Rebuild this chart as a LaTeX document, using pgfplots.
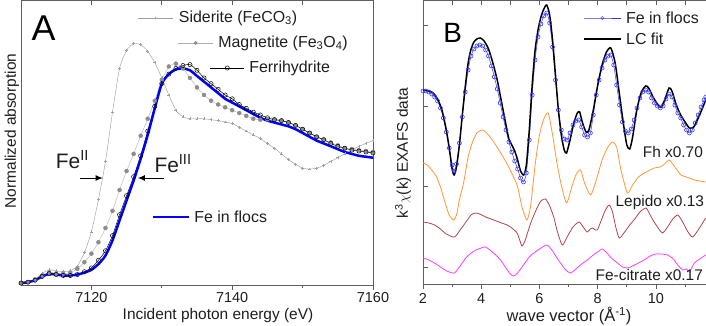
\documentclass[border=0pt]{standalone}
\usepackage{pgfplots}
\pgfplotsset{compat=1.18}
\usetikzlibrary{arrows.meta}
\usepackage{fontspec}
\setmainfont{Liberation Sans}

\definecolor{flocblue}{RGB}{0,0,255}
\definecolor{circblue}{RGB}{55,55,255}
\definecolor{sidgray}{RGB}{160,160,160}
\definecolor{maggray}{RGB}{140,140,140}
\definecolor{fhorange}{RGB}{255,150,55}
\definecolor{lepbrown}{RGB}{178,70,70}
\definecolor{citmag}{RGB}{255,60,255}
\definecolor{framegray}{RGB}{95,95,95}
\definecolor{txt}{RGB}{30,30,30}

\newcommand\tickfont{\fontsize{14.5}{17}\selectfont}
\newcommand\labfont{\fontsize{15.5}{18}\selectfont}
\newcommand\legfont{\fontsize{16}{19}\selectfont}

\pgfplotsset{
  panel/.style={
    scale only axis, anchor=south west,
    axis line style={framegray, line width=0.8bp},
    tick style={framegray, line width=0.7bp},
    major tick length=5bp, minor tick length=3bp,
    ticklabel style={font=\tickfont, text=txt},
    clip=false,
  },
  topticks/.style={
    scale only axis, anchor=south west,
    axis x line*=top, axis y line=none,
    axis line style={framegray, line width=0.8bp},
    tick style={framegray, line width=0.7bp},
    major tick length=5bp, minor tick length=3bp,
    tick align=inside, xticklabels={}, ymin=0, ymax=1,
  },
}

\begin{document}
\begin{tikzpicture}
\useasboundingbox (0,0) rectangle (706bp,326bp);

% ---------------- Panel A: Fe K-edge XANES ----------------
\begin{axis}[panel, at={(21bp,41bp)}, width=352bp, height=285bp,
  xmin=7110, xmax=7160, ymin=0, ymax=1.5,
  xtick={7120,7140,7160}, xticklabels={7120,7140,7160},
  minor xtick={7130,7150},
  xtick pos=left, xtick align=outside,
  ytick=\empty,
  xticklabel style={yshift=1bp},
]
% siderite
\addplot[sidgray, line width=0.45bp, smooth, tension=0.4, mark=+,
  mark size=1.4bp, mark options={line width=0.45bp}] table {
E v
7110 0.010
7111 0.015
7112 0.030
7113 0.060
7114 0.080
7115 0.075
7116 0.070
7117 0.075
7118 0.100
7119 0.170
7120 0.280
7121 0.450
7122 0.650
7123 0.910
7124 1.140
7125 1.235
7126 1.270
7127 1.265
7128 1.230
7129 1.170
7130 1.090
7131 1.000
7132 0.920
7133 0.885
7134 0.875
7135 0.875
7136 0.875
7137 0.870
7138 0.865
7139 0.858
7140 0.850
7141 0.830
7142 0.810
7143 0.790
7144 0.770
7145 0.745
7146 0.720
7147 0.690
7148 0.660
7149 0.635
7150 0.615
7151 0.610
7152 0.615
7153 0.630
7154 0.650
7155 0.670
7156 0.690
7157 0.710
7158 0.730
7159 0.745
7160 0.760
};
% magnetite
\addplot[maggray!70, line width=0.4bp, smooth, tension=0.4, mark=*,
  mark size=2bp, mark options={draw=maggray, fill=maggray}] table {
E v
7110 0.010
7111 0.015
7112 0.030
7113 0.050
7114 0.065
7115 0.060
7116 0.060
7117 0.065
7118 0.085
7119 0.120
7120 0.165
7121 0.225
7122 0.300
7123 0.390
7124 0.500
7125 0.600
7126 0.690
7127 0.785
7128 0.875
7129 0.970
7130 1.080
7131 1.150
7132 1.165
7133 1.140
7134 1.090
7135 1.040
7136 1.000
7137 0.970
7138 0.950
7139 0.935
7140 0.920
7141 0.905
7142 0.890
7143 0.875
7144 0.870
7145 0.872
7146 0.872
7147 0.866
7148 0.856
7149 0.840
7150 0.820
7151 0.800
7152 0.780
7153 0.765
7154 0.750
7155 0.735
7156 0.720
7157 0.715
7158 0.710
7159 0.705
7160 0.700
};
% ferrihydrite
\addplot[black, line width=0.5bp, smooth, tension=0.4, mark=o,
  mark size=2.1bp, mark options={fill=white, line width=0.5bp}] table {
E v
7110 0.010
7111 0.015
7112 0.025
7113 0.045
7114 0.060
7115 0.055
7116 0.050
7117 0.050
7118 0.055
7119 0.070
7120 0.090
7121 0.130
7122 0.180
7123 0.260
7124 0.370
7125 0.470
7126 0.570
7127 0.680
7128 0.810
7129 0.940
7130 1.060
7131 1.110
7132 1.140
7133 1.155
7134 1.160
7135 1.130
7136 1.090
7137 1.060
7138 1.030
7139 1.000
7140 0.980
7141 0.950
7142 0.930
7143 0.910
7144 0.895
7145 0.880
7146 0.870
7147 0.865
7148 0.855
7149 0.840
7150 0.820
7151 0.800
7152 0.780
7153 0.765
7154 0.745
7155 0.730
7156 0.720
7157 0.710
7158 0.705
7159 0.700
7160 0.695
};
% Fe in flocs
\addplot[flocblue, line width=2.5bp, smooth, tension=0.4] table {
E v
7110 0.010
7111 0.015
7112 0.025
7113 0.045
7114 0.058
7115 0.055
7116 0.050
7117 0.050
7118 0.055
7119 0.065
7120 0.080
7121 0.110
7122 0.155
7123 0.235
7124 0.340
7125 0.445
7126 0.550
7127 0.665
7128 0.790
7129 0.930
7130 1.060
7131 1.110
7132 1.135
7133 1.140
7134 1.130
7135 1.100
7136 1.070
7137 1.040
7138 1.010
7139 0.980
7140 0.960
7141 0.940
7142 0.920
7143 0.900
7144 0.880
7145 0.865
7146 0.855
7147 0.845
7148 0.835
7149 0.820
7150 0.800
7151 0.780
7152 0.760
7153 0.745
7154 0.730
7155 0.715
7156 0.700
7157 0.690
7158 0.680
7159 0.675
7160 0.670
};

% legend keys
\addplot[sidgray, line width=0.45bp, mark=+, mark size=1.4bp, mark indices={2}]
  coordinates {(7126.6,1.405) (7129.1,1.405) (7131.6,1.405)};
\addplot[maggray!70, line width=0.45bp, mark=*, mark size=1.7bp,
  mark options={draw=maggray, fill=maggray}, mark indices={2}]
  coordinates {(7132.3,1.274) (7134.8,1.274) (7137.3,1.274)};
\addplot[black, line width=0.5bp, mark=o, mark size=2.1bp,
  mark options={fill=white}, mark indices={2}]
  coordinates {(7136.9,1.142) (7139.3,1.142) (7141.7,1.142)};
\addplot[flocblue, line width=2.5bp]
  coordinates {(7128.7,0.358) (7133.9,0.358)};

\node[anchor=west, font=\legfont, text=txt, inner sep=0pt] at (axis cs:7132.4,1.405) {Siderite (FeCO\textsubscript{3})};
\node[anchor=west, font=\legfont, text=txt, inner sep=0pt] at (axis cs:7138.0,1.274) {Magnetite (Fe\textsubscript{3}O\textsubscript{4})};
\node[anchor=west, font=\legfont, text=txt, inner sep=0pt] at (axis cs:7142.4,1.142) {Ferrihydrite};
\node[anchor=west, font=\legfont, text=txt, inner sep=0pt] at (axis cs:7134.6,0.358) {Fe in flocs};

% edge-position markers
\draw[-{Latex[length=7bp,width=6bp]}, line width=1bp] (axis cs:7118.4,0.563) -- (axis cs:7121.6,0.563);
\draw[-{Latex[length=7bp,width=6bp]}, line width=1bp] (axis cs:7130.3,0.563) -- (axis cs:7126.6,0.563);
\node[font=\fontsize{21}{24}\selectfont, text=txt] at (axis cs:7117.3,0.66) {Fe\textsuperscript{II}};
\node[font=\fontsize{21}{24}\selectfont, text=txt] at (axis cs:7131.6,0.64) {Fe\textsuperscript{III}};

\node[font=\fontsize{36}{40}\selectfont, text=black] at (axis cs:7113.2,1.35) {A};
\end{axis}

\begin{axis}[topticks, at={(21bp,41bp)}, width=352bp, height=285bp,
  xmin=7110, xmax=7160, xtick={7120,7130,7140,7150}]
\end{axis}

% ---------------- Panel B: k^3-weighted EXAFS ----------------
\begin{axis}[panel, at={(423bp,42bp)}, width=283bp, height=284bp,
  xmin=2, xmax=11.72, ymin=1, ymax=285,
  xtick={2,4,6,8,10}, xticklabels={2,4,6,8,10},
  minor xtick={3,5,7,9,11},
  xtick pos=left, xtick align=outside,
  ytick={18,98.5,179,259.5}, yticklabels={},
  ytick pos=left, ytick align=inside,
  xticklabel style={yshift=-1bp},
]
% Fe in flocs (data)
\addplot[circblue, line width=0.5bp, smooth, tension=0.4, mark=o,
  mark size=2bp, mark options={line width=0.6bp, fill=none}] table {
k v
2.00 194
2.10 194
2.20 193
2.30 191
2.40 188
2.50 184
2.60 177
2.70 167
2.80 153
2.90 137
3.00 120
3.07 114
3.15 121
3.25 142
3.35 168
3.45 193
3.55 215
3.65 229
3.75 236
3.85 239
3.95 240
4.05 239
4.15 235
4.25 229
4.35 219
4.45 208
4.55 196
4.65 182
4.75 168
4.85 155
4.95 143
5.05 133
5.15 124
5.25 116
5.35 107
5.45 103
5.55 112
5.65 145
5.75 190
5.85 225
5.95 248
6.05 261
6.15 269
6.25 272
6.35 262
6.45 238
6.55 205
6.65 175
6.75 155
6.85 146
6.95 145
7.05 152
7.15 160
7.25 164
7.35 165
7.45 158
7.55 150
7.65 148
7.75 152
7.85 170
7.95 190
8.05 205
8.15 217
8.25 225
8.35 229
8.45 230
8.55 220
8.65 200
8.75 180
8.85 163
8.95 154
9.05 152
9.15 156
9.25 165
9.35 177
9.45 187
9.55 193
9.65 195
9.75 193
9.85 187
9.95 182
10.05 179
10.15 177
10.25 179
10.35 186
10.45 191
10.55 188
10.65 180
10.75 172
10.85 167
10.95 160
11.05 155
11.15 152
11.25 155
11.35 162
11.45 170
11.55 178
11.65 185
11.71 188
};
% linear-combination fit
\addplot[black, line width=1.5bp, smooth, tension=0.4] table {
k v
2.00 195
2.20 194
2.35 192
2.50 186
2.65 175
2.80 155
2.90 137
3.00 116
3.07 110
3.15 118
3.25 140
3.35 170
3.45 198
3.55 222
3.65 236
3.75 243
3.85 246
3.97 247
4.10 244
4.25 236
4.40 222
4.55 205
4.65 190
4.75 175
4.85 160
4.95 146
5.05 140
5.15 134
5.25 125
5.35 114
5.46 110
5.55 120
5.65 155
5.75 200
5.85 235
5.95 255
6.05 268
6.15 276
6.25 280
6.35 270
6.45 245
6.55 210
6.65 175
6.75 150
6.85 135
6.93 132
7.05 145
7.18 162
7.30 172
7.38 173
7.48 162
7.60 153
7.70 155
7.85 175
8.00 200
8.15 220
8.30 233
8.45 237
8.60 222
8.75 190
8.90 158
9.00 140
9.10 136
9.20 148
9.35 176
9.50 193
9.65 199
9.75 197
9.90 188
10.05 181
10.17 178
10.30 185
10.45 197
10.55 194
10.70 180
10.85 170
11.00 163
11.15 157
11.30 158
11.50 170
11.71 185
};
% ferrihydrite reference, scaled 0.70
\addplot[fhorange, line width=0.8bp, smooth, tension=0.4] table {
k v
2.00 122
2.15 120
2.30 115
2.45 109
2.60 98
2.75 83
2.90 70
3.05 65
3.15 70
3.25 85
3.40 103
3.55 128
3.70 143
3.85 152
4.05 155
4.25 150
4.45 142
4.65 133
4.85 123
5.05 112
5.25 98
5.40 78
5.57 65
5.70 80
5.85 120
6.00 150
6.15 166
6.30 172
6.45 150
6.60 122
6.75 100
6.93 82
7.10 97
7.25 110
7.41 115
7.55 102
7.76 90
7.95 105
8.15 125
8.35 138
8.51 143
8.65 138
8.80 115
9.02 92
9.20 100
9.40 108
9.60 112
9.80 115
9.94 117
10.15 118
10.30 121
10.46 125
10.65 118
10.86 110
11.05 108
11.32 105
11.50 104
11.71 103
};
% lepidocrocite reference, scaled 0.13
\addplot[lepbrown, line width=0.8bp, smooth, tension=0.4] table {
k v
2.00 63
2.20 62
2.40 60
2.60 56
2.80 51
3.08 48
3.30 56
3.50 64
3.65 70
3.79 72
3.95 71
4.15 68
4.43 65
4.70 62
4.89 60
5.05 57
5.23 52
5.32 45
5.40 39
5.50 44
5.70 62
5.90 76
6.05 84
6.21 86
6.35 79
6.49 68
6.60 55
6.78 40
6.95 48
7.15 58
7.36 63
7.50 58
7.64 53
7.74 56
7.82 57
7.92 55
7.99 55
8.10 63
8.25 74
8.39 80
8.50 74
8.62 58
8.74 47
8.90 52
9.10 60
9.30 67
9.45 73
9.66 77
9.80 70
9.94 63
10.10 56
10.23 52
10.40 58
10.58 66
10.75 70
10.90 64
11.10 53
11.26 48
11.45 55
11.71 67
};
% Fe(III)-citrate reference, scaled 0.17
\addplot[citmag, line width=0.8bp, smooth, tension=0.4] table {
k v
2.00 27
2.20 25
2.45 21
2.70 16
2.90 13
3.08 12
3.25 18
3.50 28
3.75 34
4.00 37
4.14 38
4.30 35
4.50 30
4.66 25
4.85 17
5.00 11
5.11 9
5.25 12
5.45 20
5.65 28
5.80 32
6.00 36
6.26 40
6.45 34
6.60 27
6.72 22
6.90 15
7.07 12
7.25 16
7.45 21
7.64 25
7.85 30
8.00 33
8.16 36
8.35 31
8.50 26
8.68 22
8.85 18
9.02 17
9.20 19
9.40 22
9.60 25
9.80 29
10.00 31
10.20 31
10.40 30
10.60 26
10.75 20
10.92 15
11.05 16
11.15 13
11.32 22
11.50 26
11.71 30
};

% legend keys
\addplot[circblue, line width=0.5bp, mark=o, mark size=1.6bp, mark indices={2}]
  coordinates {(7.52,267) (8.155,267) (8.79,267)};
\addplot[black, line width=1.5bp]
  coordinates {(7.52,246) (8.79,246)};
\node[anchor=west, font=\legfont, text=txt, inner sep=0pt] at (axis cs:8.97,267) {Fe in flocs};
\node[anchor=west, font=\legfont, text=txt, inner sep=0pt] at (axis cs:8.97,246) {LC fit};

\node[anchor=east, font=\labfont, text=txt, inner sep=0pt] at (axis cs:11.62,133) {Fh x0.70};
\node[anchor=east, font=\labfont, text=txt, inner sep=0pt] at (axis cs:11.66,82) {Lepido x0.13};
\node[anchor=east, font=\labfont, text=txt, inner sep=0pt] at (axis cs:11.62,10) {Fe-citrate x0.17};

\node[font=\fontsize{28}{32}\selectfont, text=black] at (axis cs:3.02,252) {B};
\end{axis}

\begin{axis}[topticks, at={(423bp,42bp)}, width=283bp, height=284bp,
  xmin=2, xmax=11.72, xtick={3,4,...,11}]
\end{axis}

% axis titles
\node[rotate=90, font=\labfont, text=txt] at (12bp,195bp) {Normalized absorption};
\node[font=\labfont, text=txt] at (218bp,10bp) {Incident photon energy (eV)};
\node[rotate=90, font=\labfont, text=txt] at (403bp,173bp) {k\textsuperscript{3}$\chi$(k) EXAFS data};
\node[font=\fontsize{16.5}{19}\selectfont, text=txt] at (569bp,10bp) {wave vector (Å\textsuperscript{-1})};
\end{tikzpicture}
\end{document}
